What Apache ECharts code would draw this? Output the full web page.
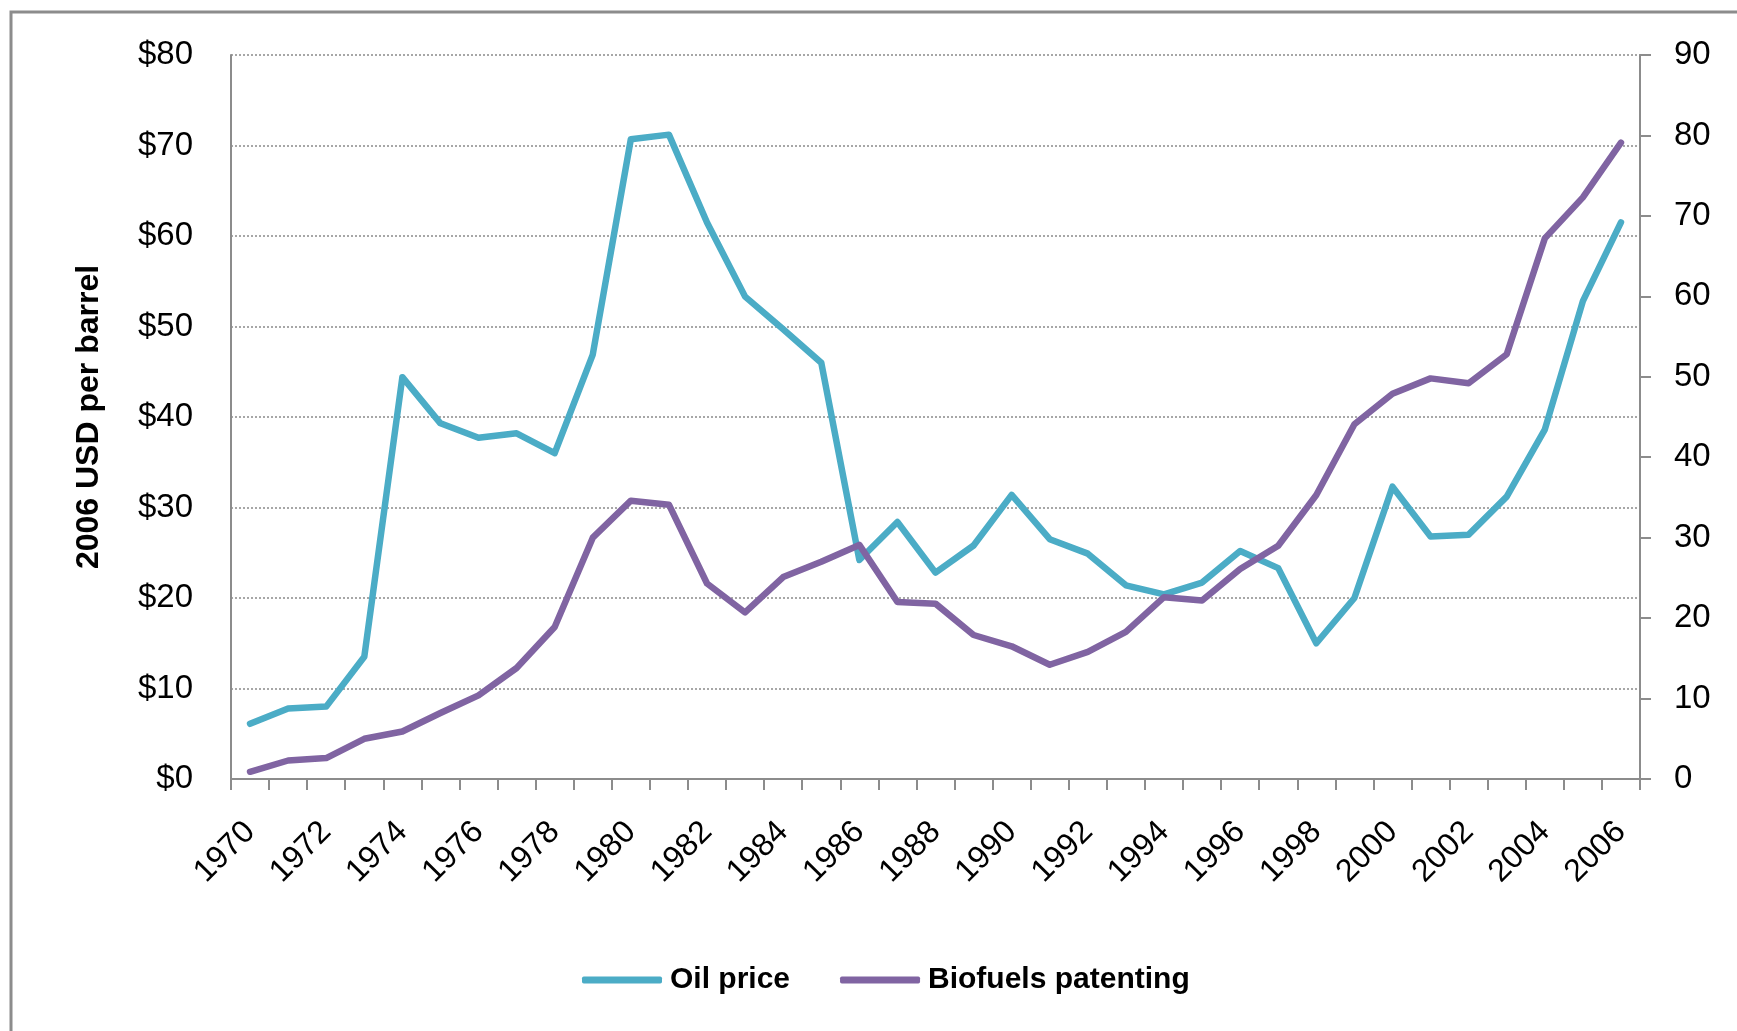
<!DOCTYPE html>
<html lang="en">
<head>
    <meta charset="UTF-8">
    <title>Oil price and biofuels patenting</title>
    <script src="https://cdn.jsdelivr.net/npm/echarts@6/dist/echarts.min.js"></script>
    <style>
        html, body { margin: 0; padding: 0; background: #fff; }
        #chart { width: 1737px; height: 1031px; }
    </style>
</head>
<body>
<div id="chart"></div>
<script>
    // years 1970 - 2006
    var years = ['1970','1971','1972','1973','1974','1975','1976','1977','1978','1979',
        '1980','1981','1982','1983','1984','1985','1986','1987','1988','1989',
        '1990','1991','1992','1993','1994','1995','1996','1997','1998','1999',
        '2000','2001','2002','2003','2004','2005','2006'];

    // 2006 USD per barrel (left axis)
    var oilPrice = [6.1, 7.8, 8.0, 13.5, 44.4, 39.3, 37.7, 38.2, 36.0, 46.9,
        70.7, 71.2, 61.5, 53.3, 49.7, 46.0, 24.2, 28.4, 22.8, 25.8,
        31.4, 26.5, 24.9, 21.4, 20.4, 21.7, 25.2, 23.3, 15.0, 20.0,
        32.3, 26.8, 27.0, 31.2, 38.6, 52.8, 61.5];

    // biofuels patenting (right axis)
    var biofuels = [0.9, 2.3, 2.6, 5.0, 5.9, 8.2, 10.4, 13.8, 18.9, 30.0,
        34.6, 34.1, 24.3, 20.7, 25.1, 27.0, 29.1, 22.0, 21.8, 17.9,
        16.5, 14.2, 15.8, 18.3, 22.6, 22.2, 26.1, 29.0, 35.3, 44.1,
        47.9, 49.8, 49.2, 52.8, 67.2, 72.3, 79.1];

    var axisGrey = '#8c8c8c';
    var fontName = 'Liberation Sans';

    var myChart = echarts.init(document.getElementById('chart'));
    var option = {
        backgroundColor: '#fff',
        animation: false,
        textStyle: { fontFamily: fontName, color: '#000' },
        graphic: [{
            type: 'rect',
            shape: { x: 11, y: 12, width: 2000, height: 2000 },
            style: { fill: 'none', stroke: '#8c8c8c', lineWidth: 3 },
            silent: true
        }],
        grid: { left: 231, right: 97, top: 55, bottom: 252 },
        legend: {
            left: 577,
            top: 960,
            itemWidth: 80,
            itemHeight: 7,
            itemGap: 50,
            icon: 'roundRect',
            textStyle: { fontSize: 30, fontWeight: 'bold', fontFamily: fontName, color: '#000', padding: [0, 0, 0, 3] },
            data: ['Oil price', 'Biofuels patenting']
        },
        xAxis: {
            type: 'category',
            data: years,
            boundaryGap: true,
            axisLine: { lineStyle: { color: axisGrey, width: 2 } },
            axisTick: { show: true, interval: 0, length: 11, lineStyle: { color: axisGrey, width: 2 } },
            axisLabel: { interval: 1, rotate: 45, margin: 48, fontSize: 32, color: '#000' }
        },
        yAxis: [{
            type: 'value',
            min: 0, max: 80, interval: 10,
            name: '2006 USD per barrel',
            nameLocation: 'middle',
            nameGap: 126,
            nameTextStyle: { fontSize: 32, fontWeight: 'bold', color: '#000' },
            axisLine: { show: true, lineStyle: { color: axisGrey, width: 2 } },
            axisTick: { show: false },
            axisLabel: {
                margin: 38, fontSize: 33, color: '#000',
                formatter: function (v) { return '$' + v; }
            },
            splitLine: { show: true, lineStyle: { color: '#8a8a8a', type: [2, 2], width: 1.5 } }
        }, {
            type: 'value',
            min: 0, max: 90, interval: 10,
            position: 'right',
            axisLine: { show: true, lineStyle: { color: axisGrey, width: 2 } },
            axisTick: { show: true, length: 11, lineStyle: { color: axisGrey, width: 2 } },
            axisLabel: { margin: 34, fontSize: 33, color: '#000' },
            splitLine: { show: false }
        }],
        series: [{
            name: 'Oil price',
            type: 'line',
            yAxisIndex: 0,
            data: oilPrice,
            symbol: 'none',
            color: '#4bacc6',
            lineStyle: { width: 6.5, color: '#4bacc6', cap: 'round', join: 'round' }
        }, {
            name: 'Biofuels patenting',
            type: 'line',
            yAxisIndex: 1,
            data: biofuels,
            symbol: 'none',
            color: '#8064a2',
            lineStyle: { width: 6.5, color: '#8064a2', cap: 'round', join: 'round' }
        }]
    };
    myChart.setOption(option);
</script>
</body>
</html>
